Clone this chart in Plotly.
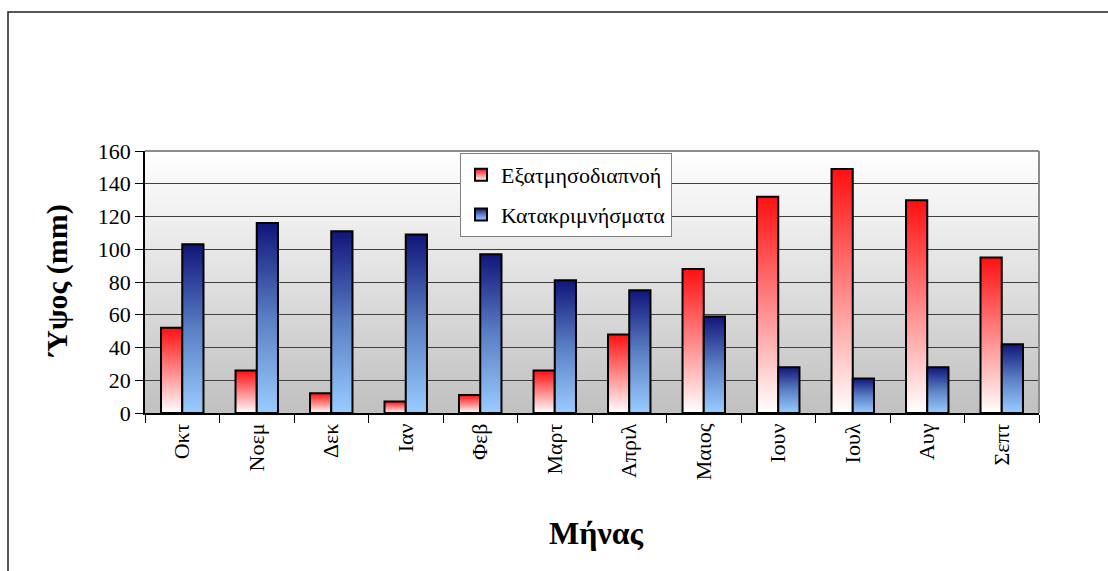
import plotly.graph_objects as go

months = ["Οκτ", "Νοεμ", "Δεκ", "Ιαν", "Φεβ", "Μαρτ", "Απριλ", "Μαιος", "Ιουν", "Ιουλ", "Αυγ", "Σεπτ"]
evapotranspiration = [52, 26, 12, 7, 11, 26, 48, 88, 132, 149, 130, 95]
precipitation = [103, 116, 111, 109, 97, 81, 75, 59, 28, 21, 28, 42]
series_names = ["Εξατμησοδιαπνοή", "Κατακριμνήσματα"]
y_ticks = [0, 20, 40, 60, 80, 100, 120, 140, 160]

FONT = "Liberation Serif, Times New Roman, serif"

fig = go.Figure()
fig.add_trace(go.Bar(
    x=months, y=evapotranspiration, name=series_names[0],
    marker=dict(color="#ff8080", line=dict(color="black", width=2)),
    legendgroup="a",
))
fig.add_trace(go.Bar(
    x=months, y=precipitation, name=series_names[1],
    marker=dict(color="#4f6fbf", line=dict(color="black", width=2)),
    legendgroup="b",
))

L, R, T, B = 145, 1039, 151, 413
W, H = 1108, 571
pw, ph = R - L, B - T

def px(xp):
    return (xp - L) / pw

def py(yp):
    return (B - yp) / ph

fig.update_layout(
    width=W, height=H,
    margin=dict(l=L, r=W - R, t=T, b=H - B, pad=0),
    paper_bgcolor="white",
    plot_bgcolor="#e0e0e0",
    barmode="group",
    bargap=0.43,
    bargroupgap=0,
    font=dict(family=FONT, color="black", size=22),
    showlegend=True,
    legend=dict(
        x=px(460), y=py(153), xanchor="left", yanchor="top",
        bgcolor="white", bordercolor="#808080", borderwidth=1,
        font=dict(family=FONT, size=22, color="black"),
        tracegroupgap=8, traceorder="grouped",
        itemwidth=30,
    ),
    xaxis=dict(
        type="category",
        showline=True, linecolor="black", linewidth=1.5,
        ticks="outside", tickson="boundaries", ticklen=8, tickcolor="black", tickwidth=1,
        tickangle=-90, tickfont=dict(family=FONT, size=22, color="black"),
        showgrid=False, zeroline=False,
    ),
    yaxis=dict(
        range=[0, 160], tickvals=y_ticks, ticktext=[str(v) for v in y_ticks],
        showline=True, linecolor="black", linewidth=1.5,
        ticks="outside", ticklen=8, tickcolor="black", tickwidth=1,
        tickfont=dict(family=FONT, size=22, color="black"),
        showgrid=True, gridcolor="#404040", gridwidth=1,
        zeroline=False,
    ),
    annotations=[
        dict(text="<b>Ύψος (mm)</b>", xref="paper", yref="paper",
             x=px(57), y=py(281), textangle=-90, showarrow=False,
             font=dict(family=FONT, size=30, color="black"),
             xanchor="center", yanchor="middle"),
        dict(text="<b>Μήνας</b>", xref="paper", yref="paper",
             x=px(596), y=py(533), showarrow=False,
             font=dict(family=FONT, size=32, color="black"),
             xanchor="center", yanchor="middle"),
    ],
    shapes=[
        dict(type="rect", xref="paper", yref="paper",
             x0=px(8), x1=px(1130), y0=py(600), y1=py(12),
             line=dict(color="#202020", width=1.5), fillcolor="rgba(0,0,0,0)", layer="below"),
        dict(type="line", xref="paper", yref="paper", x0=0, x1=1, y0=1, y1=1,
             line=dict(color="#8c8c8c", width=2), layer="above"),
        dict(type="line", xref="paper", yref="paper", x0=1, x1=1, y0=0, y1=1,
             line=dict(color="#8c8c8c", width=2), layer="above"),
    ],
)

post = r"""
document.body.style.margin = '0';
var gd = document.getElementById('{plot_id}');
function mkGrad(defs, id, stops){
  if (document.getElementById(id)) return;
  var ns = 'http://www.w3.org/2000/svg';
  var lg = document.createElementNS(ns, 'linearGradient');
  lg.setAttribute('id', id);
  lg.setAttribute('x1', '0'); lg.setAttribute('y1', '0');
  lg.setAttribute('x2', '0'); lg.setAttribute('y2', '1');
  stops.forEach(function(s){
    var st = document.createElementNS(ns, 'stop');
    st.setAttribute('offset', s[0]);
    st.setAttribute('stop-color', s[1]);
    lg.appendChild(st);
  });
  defs.appendChild(lg);
}
function applyGrad(){
  var svg = gd.querySelector('svg.main-svg');
  if (!svg) return;
  var defs = svg.querySelector('defs');
  if (!defs) { defs = document.createElementNS('http://www.w3.org/2000/svg','defs'); svg.insertBefore(defs, svg.firstChild); }
  mkGrad(defs, 'gRed', [['0', '#ff1010'], ['1', '#ffffff']]);
  mkGrad(defs, 'gBlue', [['0', '#10157a'], ['0.5', '#5a7fc4'], ['1', '#99ccff']]);
  mkGrad(defs, 'gBg', [['0', '#ffffff'], ['1', '#c0c0c0']]);
  var grads = ['url(#gRed)', 'url(#gBlue)'];
  var traces = gd.querySelectorAll('.barlayer .trace');
  traces.forEach(function(t, i){
    t.querySelectorAll('path').forEach(function(p){ p.style.fill = grads[i % 2]; });
  });
  var leg = gd.querySelectorAll('.legend .traces');
  leg.forEach(function(t, i){
    t.querySelectorAll('.legendpoints path').forEach(function(p){ p.style.fill = grads[i % 2]; });
  });
  gd.querySelectorAll('.bglayer rect.bg').forEach(function(r){ r.style.fill = 'url(#gBg)'; });
}
applyGrad();
gd.on('plotly_afterplot', applyGrad);
"""

fig.write_html("out.html", post_script=post, config={"displayModeBar": False})
